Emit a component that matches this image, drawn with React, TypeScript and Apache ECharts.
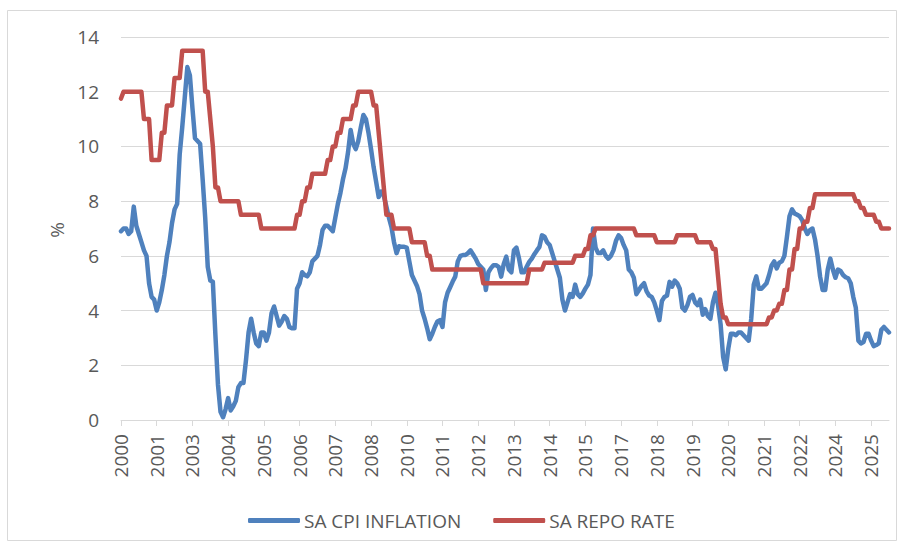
import React, { useEffect, useRef } from "react";
import * as echarts from "echarts";

// Monthly observations, September 2000 to October 2025
const START_YEAR = 2000;
const START_MONTH = 9;

const seriesNames = ["SA CPI INFLATION", "SA REPO RATE"];

const cpiInflation = [
  6.9, 7.0, 7.0, 6.8, 6.9, 7.8, 7.1, 6.8, 6.5, 6.2,
  6.0, 5.0, 4.5, 4.4, 4.0, 4.3, 4.75, 5.3, 6.0, 6.5,
  7.2, 7.7, 7.9, 9.7, 10.7, 11.8, 12.9, 12.6, 11.4, 10.3,
  10.2, 10.1, 8.8, 7.4, 5.6, 5.1, 5.05, 3.1, 1.3, 0.3,
  0.1, 0.4, 0.8, 0.35, 0.5, 0.7, 1.2, 1.35, 1.35, 2.2,
  3.2, 3.7, 3.2, 2.8, 2.7, 3.2, 3.2, 2.9, 3.2, 3.9,
  4.15, 3.8, 3.45, 3.6, 3.8, 3.7, 3.4, 3.35, 3.35, 4.8,
  5.0, 5.4, 5.3, 5.25, 5.4, 5.8, 5.9, 6.0, 6.4, 6.95,
  7.1, 7.1, 7.0, 6.9, 7.4, 7.9, 8.3, 8.8, 9.2, 9.8,
  10.6, 10.1, 9.9, 10.2, 10.7, 11.15, 11.0, 10.5, 9.9, 9.25,
  8.7, 8.15, 8.35, 8.2, 7.8, 7.4, 7.05, 6.5, 6.1, 6.35,
  6.33, 6.33, 6.3, 5.8, 5.3, 5.1, 4.9, 4.6, 4.0, 3.7,
  3.35, 2.95, 3.15, 3.4, 3.6, 3.65, 3.4, 4.3, 4.65, 4.85,
  5.06, 5.24, 5.8, 6.0, 6.03, 6.03, 6.1, 6.2, 6.05, 5.9,
  5.7, 5.6, 5.5, 4.75, 5.4, 5.55, 5.66, 5.66, 5.6, 5.24,
  5.7, 5.97, 5.5, 5.4, 6.2, 6.3, 5.9, 5.4, 5.4, 5.6,
  5.78, 5.9, 6.06, 6.2, 6.33, 6.75, 6.7, 6.5, 6.4, 6.1,
  5.8, 5.5, 5.2, 4.4, 4.0, 4.3, 4.6, 4.5, 4.95, 4.6,
  4.5, 4.63, 4.8, 4.95, 5.3, 7.0, 6.3, 6.1, 6.1, 6.2,
  6.0, 5.9, 6.0, 6.2, 6.55, 6.75, 6.65, 6.4, 6.2, 5.5,
  5.4, 5.2, 4.6, 4.75, 4.9, 5.0, 4.7, 4.55, 4.5, 4.3,
  4.0, 3.65, 4.35, 4.5, 4.55, 5.05, 4.87, 5.1, 5.0, 4.8,
  4.1, 4.0, 4.2, 4.5, 4.57, 4.3, 4.2, 4.4, 3.85, 4.05,
  3.8, 3.7, 4.3, 4.65, 4.2, 3.5, 2.3, 1.85, 2.6, 3.15,
  3.15, 3.1, 3.2, 3.2, 3.1, 3.0, 2.9, 3.7, 4.95, 5.25,
  4.8, 4.8, 4.9, 5.0, 5.3, 5.65, 5.8, 5.54, 5.75, 5.8,
  6.0, 6.7, 7.45, 7.7, 7.55, 7.5, 7.45, 7.3, 7.0, 6.8,
  6.94, 7.0, 6.6, 6.0, 5.24, 4.75, 4.75, 5.5, 5.9, 5.5,
  5.2, 5.5, 5.45, 5.3, 5.22, 5.18, 5.0, 4.5, 4.1, 2.9,
  2.8, 2.85, 3.15, 3.15, 2.9, 2.7, 2.74, 2.8, 3.3, 3.4,
  3.3, 3.2,
];

const repoRate = [
  // 2000 Sep-Dec
  11.75, 12, 12, 12,
  // 2001
  12, 12, 12, 12, 12, 11, 11, 11, 9.5, 9.5, 9.5, 9.5,
  // 2002
  10.5, 10.5, 11.5, 11.5, 11.5, 12.5, 12.5, 12.5, 13.5, 13.5, 13.5, 13.5,
  // 2003
  13.5, 13.5, 13.5, 13.5, 13.5, 12, 12, 11, 10, 8.5, 8.5, 8,
  // 2004
  8, 8, 8, 8, 8, 8, 8, 7.5, 7.5, 7.5, 7.5, 7.5,
  // 2005
  7.5, 7.5, 7.5, 7, 7, 7, 7, 7, 7, 7, 7, 7,
  // 2006
  7, 7, 7, 7, 7, 7.5, 7.5, 8, 8, 8.5, 8.5, 9,
  // 2007
  9, 9, 9, 9, 9, 9.5, 9.5, 10, 10, 10.5, 10.5, 11,
  // 2008
  11, 11, 11, 11.5, 11.5, 12, 12, 12, 12, 12, 12, 11.5,
  // 2009
  11.5, 10.5, 9.5, 8.5, 7.5, 7.5, 7.5, 7, 7, 7, 7, 7,
  // 2010
  7, 7, 6.5, 6.5, 6.5, 6.5, 6.5, 6.5, 6, 6, 5.5, 5.5,
  // 2011
  5.5, 5.5, 5.5, 5.5, 5.5, 5.5, 5.5, 5.5, 5.5, 5.5, 5.5, 5.5,
  // 2012
  5.5, 5.5, 5.5, 5.5, 5.5, 5.5, 5, 5, 5, 5, 5, 5,
  // 2013
  5, 5, 5, 5, 5, 5, 5, 5, 5, 5, 5, 5,
  // 2014
  5.5, 5.5, 5.5, 5.5, 5.5, 5.5, 5.75, 5.75, 5.75, 5.75, 5.75, 5.75,
  // 2015
  5.75, 5.75, 5.75, 5.75, 5.75, 5.75, 6, 6, 6, 6, 6.25, 6.25,
  // 2016
  6.75, 6.75, 7, 7, 7, 7, 7, 7, 7, 7, 7, 7,
  // 2017
  7, 7, 7, 7, 7, 7, 6.75, 6.75, 6.75, 6.75, 6.75, 6.75,
  // 2018
  6.75, 6.75, 6.5, 6.5, 6.5, 6.5, 6.5, 6.5, 6.5, 6.5, 6.75, 6.75,
  // 2019
  6.75, 6.75, 6.75, 6.75, 6.75, 6.75, 6.5, 6.5, 6.5, 6.5, 6.5, 6.5,
  // 2020
  6.25, 6.25, 5.25, 4.25, 3.75, 3.75, 3.5, 3.5, 3.5, 3.5, 3.5, 3.5,
  // 2021
  3.5, 3.5, 3.5, 3.5, 3.5, 3.5, 3.5, 3.5, 3.5, 3.5, 3.75, 3.75,
  // 2022
  4, 4, 4.25, 4.25, 4.75, 4.75, 5.5, 5.5, 6.25, 6.25, 7, 7,
  // 2023
  7.25, 7.25, 7.75, 7.75, 8.25, 8.25, 8.25, 8.25, 8.25, 8.25, 8.25, 8.25,
  // 2024
  8.25, 8.25, 8.25, 8.25, 8.25, 8.25, 8.25, 8.25, 8, 8, 7.75, 7.75,
  // 2025 Jan-Oct
  7.5, 7.5, 7.5, 7.5, 7.25, 7.25, 7, 7, 7, 7,
];

const Y_MIN = 0;
const Y_MAX = 14;
const Y_STEP = 2;
const LABEL_EVERY_MONTHS = 14;

const FONT = '"Open Sans", "Noto Sans", sans-serif';
const TEXT_COLOR = "#595959";
const GRID_COLOR = "#d9d9d9";
const BLUE = "#4f81bd";
const RED = "#c0504d";

function buildMonths(count: number): string[] {
  const out: string[] = [];
  for (let i = 0; i < count; i++) {
    const m0 = START_MONTH - 1 + i;
    const y = START_YEAR + Math.floor(m0 / 12);
    const m = (m0 % 12) + 1;
    out.push(`${y}-${m < 10 ? "0" + m : m}`);
  }
  return out;
}

const showEvery = (index: number) => index % LABEL_EVERY_MONTHS === 0;

export default function App() {
  const ref = useRef<HTMLDivElement | null>(null);

  useEffect(() => {
    document.body.style.margin = "0";
    if (!ref.current) return;
    const chart = echarts.init(ref.current, undefined, { renderer: "svg" });
    const months = buildMonths(cpiInflation.length);

    chart.setOption({
      animation: false,
      backgroundColor: "#ffffff",
      textStyle: { fontFamily: FONT },
      grid: { left: 121, right: 14, top: 37, bottom: 128, containLabel: false },
      graphic: [
        {
          type: "rect",
          shape: { x: 7.5, y: 10.5, width: 889, height: 530 },
          style: { fill: "none", stroke: GRID_COLOR, lineWidth: 1 },
          silent: true,
        },
        {
          type: "text",
          x: 57,
          y: 230,
          rotation: Math.PI / 2,
          style: {
            text: "%",
            fill: TEXT_COLOR,
            fontSize: 19,
            fontFamily: FONT,
            align: "center",
            verticalAlign: "middle",
          },
        },
      ],
      legend: {
        data: seriesNames,
        left: 243,
        top: 506,
        icon: "roundRect",
        itemWidth: 52,
        itemHeight: 5,
        itemGap: 32,
        textStyle: { color: TEXT_COLOR, fontSize: 19, fontFamily: FONT, padding: [0, 0, 0, -1] },
      },
      xAxis: {
        type: "category",
        data: months,
        boundaryGap: false,
        axisLine: { lineStyle: { color: GRID_COLOR, width: 1 } },
        axisTick: {
          interval: showEvery,
          length: 6,
          lineStyle: { color: GRID_COLOR, width: 1 },
        },
        axisLabel: {
          interval: showEvery,
          rotate: 90,
          margin: 14,
          color: TEXT_COLOR,
          fontSize: 19,
          fontFamily: FONT,
          formatter: (v: string) => v.slice(0, 4),
        },
        splitLine: { show: false },
      },
      yAxis: {
        type: "value",
        min: Y_MIN,
        max: Y_MAX,
        interval: Y_STEP,
        axisLine: { show: false },
        axisTick: { show: false },
        axisLabel: { margin: 22, color: TEXT_COLOR, fontSize: 19, fontFamily: FONT },
        splitLine: { lineStyle: { color: GRID_COLOR, width: 1 } },
      },
      series: [
        {
          name: seriesNames[0],
          type: "line",
          data: cpiInflation,
          symbol: "none",
          color: BLUE,
          lineStyle: { color: BLUE, width: 4.5, cap: "round", join: "round" },
        },
        {
          name: seriesNames[1],
          type: "line",
          data: repoRate,
          symbol: "none",
          color: RED,
          lineStyle: { color: RED, width: 4.5, cap: "round", join: "round" },
        },
      ],
    });

    return () => {
      chart.dispose();
    };
  }, []);

  return <div ref={ref} style={{ width: 903, height: 548 }} />;
}
